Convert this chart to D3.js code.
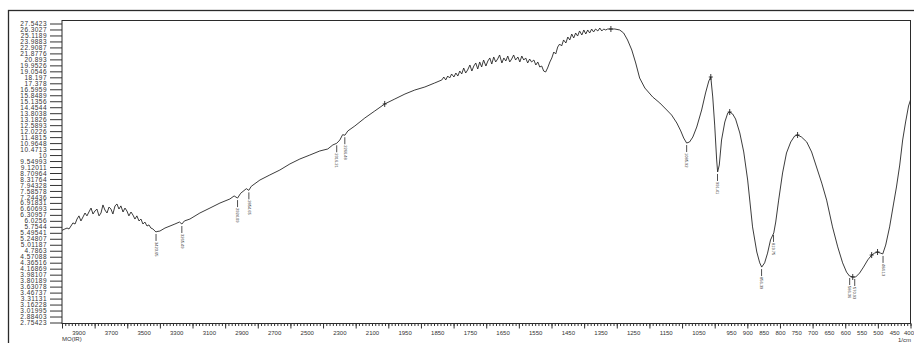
<!DOCTYPE html>
<html>
<head>
<meta charset="utf-8">
<script src="https://cdn.jsdelivr.net/npm/d3@7"></script>
<style>
  html, body { margin: 0; padding: 0; background: #fff; }
  svg { display: block; }
  text { font-family: "Liberation Sans", Arial, sans-serif; fill: #333; }
</style>
</head>
<body>
<div id="chart"></div>
<script>
// IR trace: wavenumber (1/cm) and transmittance
const wavenumbers = [
  4000, 3994, 3982, 3969, 3957, 3945, 3933, 3920, 3908, 3896, 3884, 3871, 3859, 3847, 3835, 3822,
  3810, 3798, 3786, 3773, 3761, 3749, 3737, 3724, 3712, 3700, 3688, 3675, 3663, 3651, 3639, 3626,
  3614, 3602, 3590, 3577, 3565, 3553, 3541, 3528, 3516, 3504, 3492, 3479, 3467, 3455, 3443, 3430,
  3424, 3418,
  3400, 3369, 3338, 3308, 3280, 3265, 3250, 3216, 3155, 3093, 3032, 2971, 2945, 2924, 2905, 2870,
  2855, 2840, 2787, 2726, 2665, 2603, 2542, 2481, 2420, 2371, 2340, 2316, 2297, 2280, 2266, 2248,
  2205, 2144, 2083, 2022, 1980, 1949, 1919, 1888, 1858,
  1836, 1830, 1824, 1818, 1812, 1806, 1799, 1793, 1787, 1781, 1775, 1769, 1763, 1757, 1750, 1744,
  1738, 1732, 1726, 1720, 1714, 1708, 1701, 1695, 1689, 1683, 1677, 1671, 1665, 1659, 1652, 1646,
  1640, 1634, 1628, 1622, 1616, 1610, 1603, 1597, 1591, 1585, 1579, 1573, 1567, 1561, 1554, 1548,
  1542, 1536, 1530, 1524, 1518, 1512, 1505, 1499, 1493, 1487, 1481, 1475, 1469, 1463, 1456, 1450,
  1444, 1438, 1432, 1426, 1420, 1414, 1407, 1401, 1395, 1389, 1383, 1377, 1371, 1365, 1358, 1352,
  1346, 1340, 1334, 1328, 1318, 1306, 1291, 1279, 1267, 1254, 1242, 1230, 1214, 1190, 1168, 1147,
  1132, 1116, 1104, 1095, 1086, 1077, 1067, 1055, 1040, 1028, 1018, 1012, 1006, 1000, 994, 991,
  986, 979, 969, 960, 954, 945, 936, 923, 911, 899, 884, 871, 862, 856, 847, 838,
  829, 819, 813, 804, 792, 780, 767, 755, 746, 734, 718, 703, 688, 672, 657, 639,
  623, 608, 596, 587, 577, 568, 556, 544, 531, 519, 510, 501, 492, 485, 476, 464,
  452, 443, 433, 424, 415, 406, 400
];
const transmittance = [
  5.60, 5.62, 5.66, 5.70, 5.66, 5.79, 5.93, 5.88, 6.11, 6.26, 6.02, 6.21, 6.40, 6.26, 6.45, 6.65,
  6.35, 6.50, 6.60, 6.26, 6.40, 6.81, 6.55, 6.40, 6.70, 6.60, 6.35, 6.76, 6.86, 6.60, 6.76, 6.45,
  6.65, 6.50, 6.26, 6.45, 6.30, 6.11, 6.26, 6.02, 6.11, 5.88, 5.97, 5.79, 5.84, 5.70, 5.66, 5.57,
  5.53, 5.55,
  5.57, 5.70, 5.79, 5.88, 5.97, 5.88, 6.02, 6.11, 6.40, 6.65, 6.91, 7.13, 7.30, 7.18, 7.45, 7.72,
  7.62, 7.86, 8.25, 8.58, 8.91, 9.34, 9.70, 10.00, 10.32, 10.48, 10.81, 10.95, 11.23, 11.70, 11.65, 12.04,
  12.51, 13.30, 14.04, 14.82, 15.40, 16.00, 16.50, 16.89, 17.42,
  17.83, 18.24, 17.83, 18.38, 18.10, 18.67, 18.24, 18.81, 18.38, 19.10, 18.67, 19.55, 18.81, 19.25, 20.01, 19.10,
  19.85, 20.32, 19.40, 20.48, 19.70, 20.79, 19.85, 20.63, 21.12, 20.16, 21.28, 20.48, 20.95, 21.61, 20.32, 21.12,
  20.63, 21.44, 20.48, 20.95, 21.61, 20.79, 21.28, 20.48, 21.44, 20.79, 21.12, 20.32, 20.95, 20.48, 20.79, 20.01,
  20.48, 19.70, 19.85, 19.10, 18.96, 19.55, 20.48, 21.12, 22.11, 21.78, 22.98, 23.52, 23.16, 24.26, 23.70, 24.82,
  24.26, 25.40, 24.63, 25.60, 25.01, 26.00, 25.21, 26.20, 25.40, 26.20, 25.60, 26.40, 25.80, 26.40, 26.00, 26.60,
  26.00, 26.40, 26.20, 26.40, 26.40, 26.40, 26.20, 25.60, 24.26, 22.46, 20.32, 18.10, 16.76, 15.64, 14.93, 14.15,
  13.61, 12.80, 12.04, 11.40, 10.97, 11.06, 11.49, 12.41, 14.15, 16.13, 17.69, 18.24, 15.64, 12.60, 9.63, 8.78,
  9.26, 11.23, 12.90, 13.82, 13.93, 13.72, 13.20, 11.85, 10.24, 8.25, 5.75, 4.74, 4.36, 4.22, 4.36, 4.70,
  5.20, 5.49, 5.97, 7.07, 8.71, 10.16, 11.06, 11.58, 11.67, 11.49, 11.06, 10.24, 9.12, 8.06, 7.07, 5.75,
  4.93, 4.36, 4.06, 3.94, 3.91, 3.91, 4.03, 4.22, 4.46, 4.63, 4.70, 4.74, 4.70, 4.67, 5.00, 5.75,
  6.86, 7.82, 9.26, 11.23, 12.90, 14.59, 15.28
];

// peak picks hanging under the bands
const peakWavenumbers = [3423.65, 3265.49, 2924.09, 2854.65, 2316.21, 2266.48, 1085.92, 991.41, 856.39, 819.75, 586.36, 570.93, 484.13];
const peakValues = [5.53, 5.88, 7.18, 7.62, 10.95, 11.65, 10.97, 8.78, 4.22, 5.49, 3.94, 3.91, 4.67];

// small cross markers on the trace
const crossWavenumbers = [2022, 1318, 1012, 954, 746, 577, 519, 501];
const crossValues = [14.82, 26.40, 18.24, 13.93, 11.67, 3.91, 4.63, 4.74];

const yTickLabels = [
  "27.5423", "26.3027", "25.1189", "23.9883", "22.9087", "21.8776", "20.893", "19.9526", "19.0546",
  "18.197", "17.378", "16.5959", "15.8489", "15.1356", "14.4544", "13.8038", "13.1826", "12.5893",
  "12.0226", "11.4815", "10.9648", "10.4713", "10", "9.54993", "9.12011", "8.70964", "8.31764",
  "7.94328", "7.58578", "7.24436", "6.91831", "6.60693", "6.30957", "6.0256", "5.7544", "5.49541",
  "5.24807", "5.01187", "4.7863", "4.57088", "4.36516", "4.16869", "3.98107", "3.80189", "3.63078",
  "3.46737", "3.31131", "3.16228", "3.01995", "2.88403", "2.75423"
];
const xTickLabels = [3900, 3700, 3500, 3300, 3100, 2900, 2700, 2500, 2300, 2100,
  1950, 1850, 1750, 1650, 1550, 1450, 1350, 1250, 1150, 1050,
  950, 900, 850, 800, 750, 700, 650, 600, 550, 500, 450, 400];

const svgWidth = 914, svgHeight = 343;
let margin = {top: 20.5, right: 3.5, bottom: 19.5, left: 62};
let plotRight = svgWidth - margin.right, plotBottom = svgHeight - margin.bottom;

// x axis is expanded 2x below 2000 1/cm
let x = d3.scaleLinear()
  .domain([4000, 2000, 1000, 400])
  .range([margin.left, 388.3, 714.7, plotRight]);

let y = d3.scaleLog()
  .domain([2.75423, 27.5423])
  .range([322.5, 23.5]);

let svg = d3.select("#chart").append("svg")
  .attr("width", svgWidth)
  .attr("height", svgHeight);

// outer page frame
svg.append("rect")
  .attr("x", 8.5).attr("y", 10.5)
  .attr("width", 930).attr("height", 360)
  .attr("fill", "none").attr("stroke", "#2b2b2b").attr("stroke-width", 1.3);

svg.append("clipPath").attr("id", "plotClip")
  .append("rect")
  .attr("x", margin.left).attr("y", margin.top)
  .attr("width", plotRight - margin.left).attr("height", plotBottom - margin.top);

// y axis with the log tick values
let yAxis = d3.axisLeft(y)
  .tickValues(yTickLabels.map(Number))
  .tickFormat((d, i) => yTickLabels[i])
  .tickSize(12)
  .tickPadding(3);

let gy = svg.append("g")
  .attr("transform", "translate(" + margin.left + ",0)")
  .call(yAxis);
gy.select(".domain").remove();
gy.selectAll("line").attr("stroke", "#333");
gy.selectAll("text")
  .style("font-size", "6.5px")
  .style("letter-spacing", "0.45px")
  .attr("fill", "#333");

// x axis: minor ticks, major ticks, then labels
let minorTicks = d3.range(4000, 2000, -20).concat(d3.range(2000, 399, -10));
let majorTicks = d3.range(4000, 2000, -200).concat(d3.range(2000, 399, -100));

let gxMinor = svg.append("g")
  .attr("transform", "translate(0," + plotBottom + ")")
  .call(d3.axisBottom(x).tickValues(minorTicks).tickSize(2.5).tickFormat(""));
let gxMajor = svg.append("g")
  .attr("transform", "translate(0," + plotBottom + ")")
  .call(d3.axisBottom(x).tickValues(majorTicks).tickSize(5).tickFormat(""));
let gxLabels = svg.append("g")
  .attr("transform", "translate(0," + plotBottom + ")")
  .call(d3.axisBottom(x).tickValues(xTickLabels).tickSize(0).tickPadding(7).tickFormat(d3.format("d")));

[gxMinor, gxMajor, gxLabels].forEach(g => {
  g.select(".domain").remove();
  g.selectAll("line").attr("stroke", "#333");
});
gxLabels.selectAll("text")
  .style("font-size", "6px")
  .attr("fill", "#333");
// last label sits on the right edge of the frame
gxLabels.selectAll("text")
  .filter(d => d === 400)
  .attr("text-anchor", "end")
  .attr("dx", 3);

// axis captions
svg.append("text")
  .attr("x", 62).attr("y", 341)
  .style("font-size", "6px")
  .text("MO(IR)");
svg.append("text")
  .attr("x", 911).attr("y", 341.5)
  .attr("text-anchor", "end")
  .style("font-size", "6px")
  .text("1/cm");

// plot frame
svg.append("rect")
  .attr("x", margin.left).attr("y", margin.top)
  .attr("width", plotRight - margin.left).attr("height", plotBottom - margin.top)
  .attr("fill", "none").attr("stroke", "#2b2b2b").attr("stroke-width", 1);

let data = wavenumbers.map((w, i) => [w, transmittance[i]]);

let line = d3.line()
  .x(d => x(d[0]))
  .y(d => y(d[1]));

let main = svg.append("g").attr("clip-path", "url(#plotClip)");

main.append("path")
  .datum(data)
  .attr("d", line)
  .attr("fill", "none")
  .attr("stroke", "#262626")
  .attr("stroke-width", 0.9)
  .attr("stroke-linejoin", "round");

// cross markers
let crosses = main.selectAll(".cross")
  .data(crossWavenumbers.map((w, i) => [w, crossValues[i]]))
  .enter().append("g")
  .attr("class", "cross")
  .attr("transform", d => "translate(" + x(d[0]) + "," + y(d[1]) + ")");
crosses.append("line").attr("x1", 0).attr("x2", 0).attr("y1", -3).attr("y2", 3)
  .attr("stroke", "#222").attr("stroke-width", 0.9);
crosses.append("line").attr("x1", -2).attr("x2", 2).attr("y1", 0).attr("y2", 0)
  .attr("stroke", "#222").attr("stroke-width", 0.9);

// peak labels: a short stem and the wavenumber written downwards
let peaks = main.selectAll(".peak")
  .data(peakWavenumbers.map((w, i) => [w, peakValues[i]]))
  .enter().append("g")
  .attr("class", "peak")
  .attr("transform", d => "translate(" + x(d[0]) + "," + y(d[1]) + ")");
peaks.append("line")
  .attr("x1", 0).attr("x2", 0).attr("y1", 2).attr("y2", 9)
  .attr("stroke", "#222").attr("stroke-width", 0.8);
peaks.append("text")
  .attr("transform", "translate(-1.3,10) rotate(90)")
  .style("font-size", "4px")
  .attr("fill", "#444")
  .text(d => d[0].toFixed(2));
</script>
</body>
</html>
